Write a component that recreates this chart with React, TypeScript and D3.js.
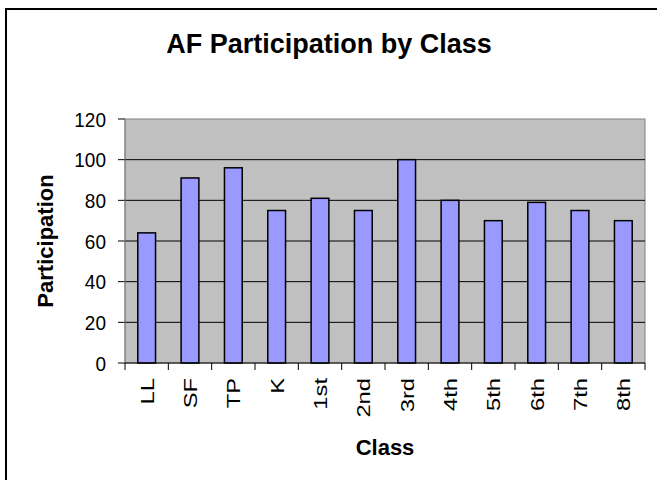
import React from 'react';
import * as d3 from 'd3';

const classes = ['LL', 'SF', 'TP', 'K', '1st', '2nd', '3rd', '4th', '5th', '6th', '7th', '8th'];
const participation = [64, 91, 96, 75, 81, 75, 100, 80, 70, 79, 75, 70];
const yTicks = [0, 20, 40, 60, 80, 100, 120];

const font = '"Liberation Sans", Arial, sans-serif';

// plot area box
const plot = { left: 125, top: 119, right: 645, bottom: 363 };

function Bar(props: { x: number; y: number; width: number; height: number }) {
  return (
    <rect x={props.x} y={props.y} width={props.width} height={props.height}
      fill="#9999FF" stroke="#000" strokeWidth={1.5} />
  );
}

function YAxis(props: { y: d3.ScaleLinear<number, number> }) {
  const y = props.y;
  return (
    <g>
      {yTicks.map((t, i) => (
        <g key={i}>
          {t > 0 && t < 120 && (
            <line x1={plot.left} x2={plot.right} y1={y(t)} y2={y(t)} stroke="#000" strokeWidth={1} />
          )}
          <line x1={plot.left - 7} x2={plot.left} y1={y(t)} y2={y(t)} stroke="#000" strokeWidth={1} />
          <text transform={`translate(${plot.left - 19},${y(t)}) scale(1,1.1)`} dy="0.36em" textAnchor="end"
            fontSize={19} fontFamily={font} fill="#000">{t}</text>
        </g>
      ))}
      <line x1={plot.left} x2={plot.left} y1={plot.top} y2={plot.bottom} stroke="#808080" strokeWidth={1} />
    </g>
  );
}

function XAxis(props: { x: d3.ScaleBand<string> }) {
  const x = props.x;
  const step = x.step();
  const edges = d3.range(0, classes.length + 1).map((i) => plot.left + i * step);
  return (
    <g>
      <line x1={plot.left} x2={plot.right} y1={plot.bottom} y2={plot.bottom} stroke="#000" strokeWidth={1} />
      {edges.map((e, i) => (
        <line key={i} x1={e} x2={e} y1={plot.bottom} y2={plot.bottom + 7} stroke="#000" strokeWidth={1} />
      ))}
      {classes.map((c, i) => {
        const cx = (x(c) as number) + x.bandwidth() / 2;
        // labels in the picture are stretched along their length
        return (
          <text key={i} transform={`translate(${cx + 7},${plot.bottom + 15}) rotate(-90) scale(1.25,1)`}
            textAnchor="end" fontSize={19} fontFamily={font} fill="#000">{c}</text>
        );
      })}
    </g>
  );
}

export default function App() {
  const x = d3.scaleBand<string>().domain(classes).range([plot.left, plot.right]).padding(0);
  const y = d3.scaleLinear().domain([0, 120]).range([plot.bottom, plot.top]);
  const barW = x.bandwidth() * 0.41;

  return (
    <svg width={657} height={480} style={{ position: 'absolute', left: 0, top: 0, background: '#fff' }}>
      <rect x={6} y={9} width={700} height={520} fill="#fff" stroke="#000" strokeWidth={2} />
      <text x={329} y={53} textAnchor="middle" fontSize={27} fontWeight="bold" fontFamily={font}>
        AF Participation by Class
      </text>

      <rect x={plot.left} y={plot.top} width={plot.right - plot.left} height={plot.bottom - plot.top}
        fill="#C0C0C0" stroke="#808080" strokeWidth={1} />
      <YAxis y={y} />

      {participation.map((v, i) => (
        <Bar key={i} x={(x(classes[i]) as number) + (x.bandwidth() - barW) / 2} y={y(v)}
          width={barW} height={y(0) - y(v)} />
      ))}

      <XAxis x={x} />

      <text transform={`translate(53,${(plot.top + plot.bottom) / 2}) rotate(-90)`} textAnchor="middle"
        fontSize={22} fontWeight="bold" fontFamily={font}>Participation</text>
      <text x={385} y={455} textAnchor="middle" fontSize={22} fontWeight="bold" fontFamily={font}>Class</text>
    </svg>
  );
}
